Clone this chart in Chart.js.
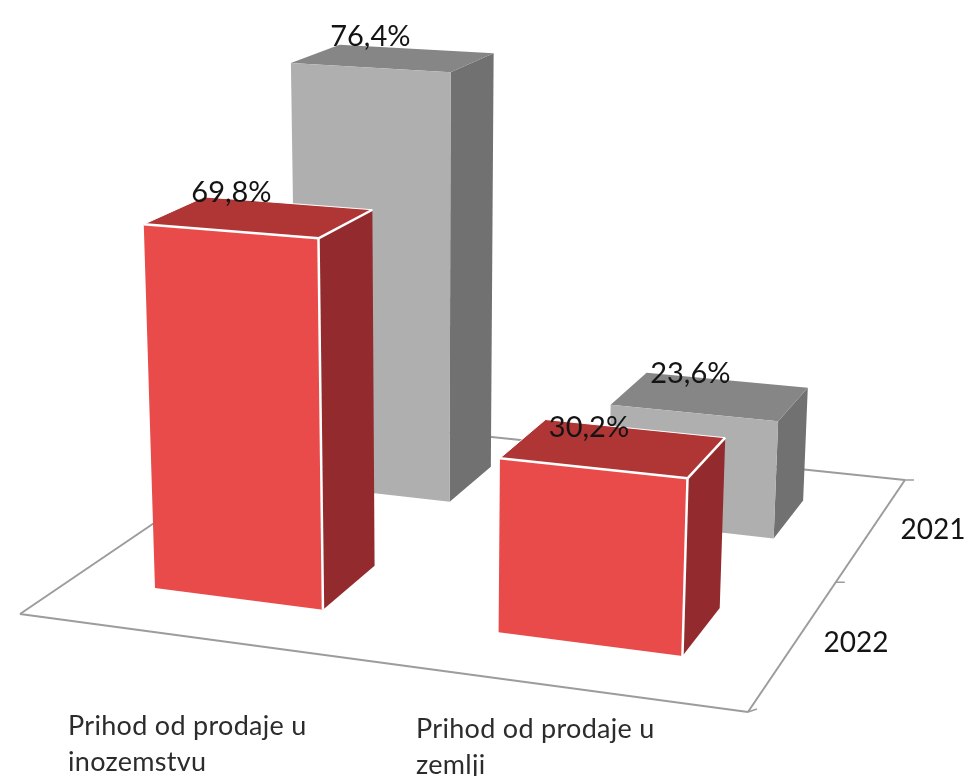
<!DOCTYPE html>
<html>
<head>
<meta charset="utf-8">
<style>
  html, body { margin: 0; padding: 0; background: #fff; }
  canvas { display: block; filter: blur(0.7px); }
</style>
<script src="https://cdn.jsdelivr.net/npm/chart.js@4"></script>
</head>
<body>
<canvas id="chart" width="970" height="776"></canvas>
<script>
const categories = ['Prihod od prodaje u inozemstvu', 'Prihod od prodaje u zemlji'];
const categoryLines = [['Prihod od prodaje u', 'inozemstvu'], ['Prihod od prodaje u', 'zemlji']];
const years = ['2022', '2021'];
const values2021 = [76.4, 23.6];
const values2022 = [69.8, 30.2];

// floor homography, unit square -> screen, plus the vanishing point of the verticals
const FLOOR = { a: 660.9, b: 364.7, c: 20, d: 34.15, e: -93.55, f: 614, g: -0.08967, h: 0.2451 };
const VANISH = { x: 430, y: 9500 };
const HEIGHT_K = 0.0685;
const BAR_DEPTH = 0.19;
// small per-label shifts, value labels don't sit at one fixed offset in the source
const LABEL_NUDGE = { '2021': [[2, 2], [5, 0]], '2022': [[-3, -1], [0, 3]] };

function project(u, v, t) {
  const X = FLOOR.a * u + FLOOR.b * v + FLOOR.c;
  const Y = FLOOR.d * u + FLOOR.e * v + FLOOR.f;
  const W = FLOOR.g * u + FLOOR.h * v + 1;
  const h = HEIGHT_K * t;
  return [(X - VANISH.x * h) / (W - h), (Y - VANISH.y * h) / (W - h)];
}

function face(ctx, pts, fill) {
  ctx.beginPath();
  pts.forEach((p, i) => i ? ctx.lineTo(p[0], p[1]) : ctx.moveTo(p[0], p[1]));
  ctx.closePath();
  ctx.fillStyle = fill;
  ctx.fill();
}

function edge(ctx, a, b, color, width) {
  ctx.beginPath();
  ctx.moveTo(a[0], a[1]);
  ctx.lineTo(b[0], b[1]);
  ctx.strokeStyle = color;
  ctx.lineWidth = width;
  ctx.stroke();
}

const perspectiveBars = {
  id: 'perspectiveBars',
  afterDatasetsDraw(chart) {
    const ctx = chart.ctx;
    const xs = chart.scales.x;
    const ds = chart.scales.depth;
    const fracDepth = name => (ds.getPixelForValue(years.indexOf(name)) - ds.left) / ds.width;

    // floor outline and depth ticks
    const lineColor = '#9c9c9c';
    const c00 = project(0, 0, 0), c10 = project(1, 0, 0), c11 = project(1, 1, 0), c01 = project(0, 1, 0);
    edge(ctx, c00, c10, lineColor, 2);
    edge(ctx, c10, c11, lineColor, 2);
    edge(ctx, c11, c01, lineColor, 2);
    edge(ctx, c01, c00, lineColor, 2);
    [0, 0.5, 1].forEach(v => {
      const p = project(1, v, 0);
      edge(ctx, p, [p[0] + 9, p[1] - (v === 0 ? 3 : 0)], lineColor, 1.5);
    });

    const labels = [];
    chart.data.datasets.forEach((dataset, i) => {
      const meta = chart.getDatasetMeta(i);
      const yScale = chart.scales[dataset.yAxisID];
      const v0 = fracDepth(dataset.label) - BAR_DEPTH / 2, v1 = v0 + BAR_DEPTH;
      meta.data.forEach((bar, j) => {
        const u0 = (bar.x - bar.width / 2 - xs.left) / xs.width;
        const u1 = (bar.x + bar.width / 2 - xs.left) / xs.width;
        const t = (yScale.bottom - bar.y) / yScale.height;
        const fl = project(u0, v0, t), fr = project(u1, v0, t), bl = project(u0, v1, t), br = project(u1, v1, t);
        const flB = project(u0, v0, 0), frB = project(u1, v0, 0), brB = project(u1, v1, 0);
        face(ctx, [frB, brB, br, fr], dataset.sideColor);
        face(ctx, [fl, fr, br, bl], dataset.topColor);
        face(ctx, [flB, frB, fr, fl], dataset.frontColor);
        if (dataset.edgeColor) {
          edge(ctx, fl, fr, dataset.edgeColor, 2.5);
          edge(ctx, fr, frB, dataset.edgeColor, 2.5);
          edge(ctx, fr, br, dataset.edgeColor, 2.5);
          edge(ctx, bl, br, dataset.edgeColor, 1);
          edge(ctx, fl, bl, dataset.edgeColor, 1);
        }
        const mid = project((u0 + u1) / 2, (v0 + v1) / 2, t);
        const nudge = LABEL_NUDGE[dataset.label][j];
        labels.push([dataset.data[j].toFixed(1).replace('.', ',') + '%', mid[0] - 25 + nudge[0], mid[1] - 23 + nudge[1]]);
      });
    });

    ctx.font = '29px Lato';
    ctx.fillStyle = '#141414';
    ctx.textAlign = 'center';
    ctx.textBaseline = 'middle';
    labels.forEach(l => ctx.fillText(l[0], l[1], l[2]));

    // axis labels
    ctx.font = '28px Lato';
    ctx.fillText(years[1], 933, 530);
    ctx.fillText(years[0], 856, 643);
    ctx.font = '27px Lato';
    ctx.letterSpacing = '0.3px';
    ctx.fillStyle = '#2c2c2c';
    ctx.textAlign = 'left';
    categoryLines[0].forEach((line, i) => ctx.fillText(line, 68, 726 + i * 36));
    categoryLines[1].forEach((line, i) => ctx.fillText(line, 416, 729 + i * 36));
    ctx.letterSpacing = '0px';
  }
};

new Chart(document.getElementById('chart').getContext('2d'), {
  type: 'bar',
  plugins: [perspectiveBars],
  data: {
    labels: categories,
    datasets: [
      { label: '2021', data: values2021, yAxisID: 'yBack', backgroundColor: 'transparent',
        frontColor: '#afafaf', topColor: '#868686', sideColor: '#717171' },
      { label: '2022', data: values2022, yAxisID: 'yFront', backgroundColor: 'transparent',
        frontColor: '#e94b4b', topColor: '#b03535', sideColor: '#932b2e', edgeColor: '#ffffff' }
    ]
  },
  options: {
    responsive: false,
    animation: false,
    grouped: false,
    barPercentage: 0.5,
    categoryPercentage: 1,
    layout: { padding: 0 },
    plugins: { legend: { display: false }, tooltip: { enabled: false } },
    scales: {
      x: { type: 'category', display: false },
      depth: { type: 'category', axis: 'x', labels: years, offset: true, display: false },
      // the source picture's bars are not quite proportional, so each series gets its own range
      yBack: { type: 'linear', axis: 'y', min: 3.9, max: 100.6, display: false },
      yFront: { type: 'linear', axis: 'y', min: -4.8, max: 122.1, display: false }
    }
  }
});
</script>
</body>
</html>
